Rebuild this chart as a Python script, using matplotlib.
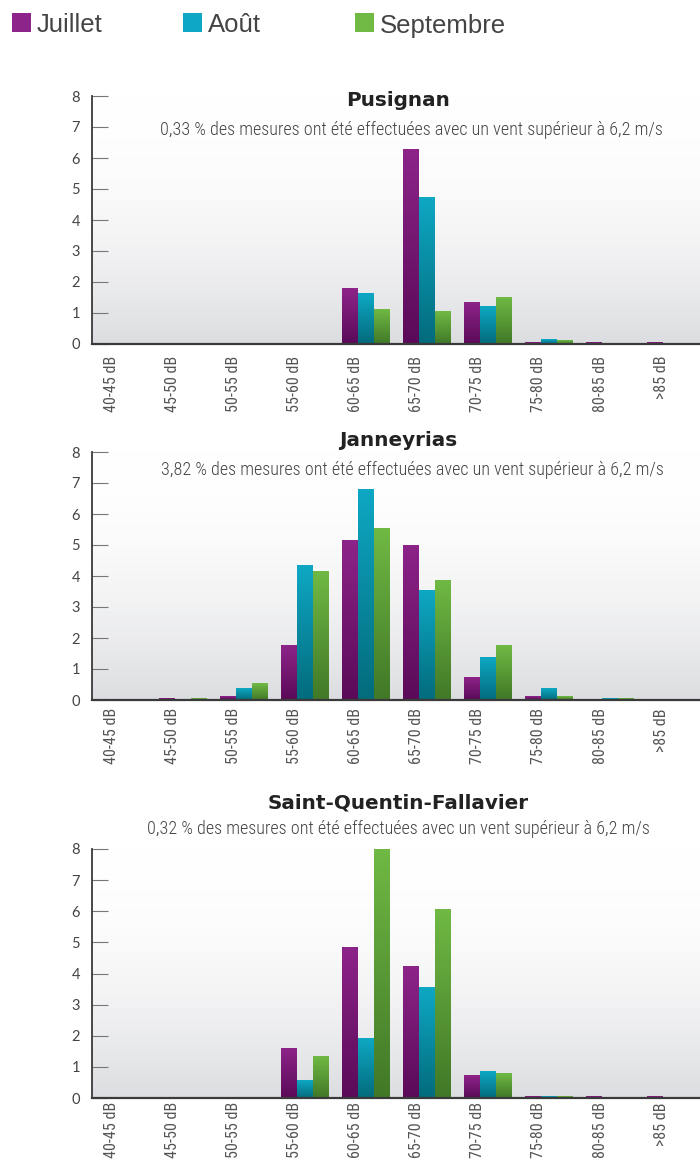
import os
import numpy as np
import matplotlib
matplotlib.use('Agg')
import matplotlib.pyplot as plt
from matplotlib import font_manager
from matplotlib.font_manager import FontProperties
from matplotlib.colors import LinearSegmentedColormap, to_rgb
from matplotlib.patches import Rectangle
from matplotlib.transforms import ScaledTranslation

categories = ['40-45 dB', '45-50 dB', '50-55 dB', '55-60 dB', '60-65 dB',
              '65-70 dB', '70-75 dB', '75-80 dB', '80-85 dB', '>85 dB']
months = ['Juillet', 'Août', 'Septembre']

stations = ['Pusignan', 'Janneyrias', 'Saint-Quentin-Fallavier']
wind_share = ['0,33', '3,82', '0,32']

pusignan_juillet = [0, 0, 0, 0, 1.78, 6.28, 1.33, 0.04, 0.04, 0.04]
pusignan_aout = [0, 0, 0, 0, 1.62, 4.71, 1.20, 0.14, 0, 0]
pusignan_sept = [0, 0, 0, 0, 1.10, 1.04, 1.49, 0.11, 0, 0]

janneyrias_juillet = [0, 0.04, 0.11, 1.75, 5.15, 4.99, 0.72, 0.11, 0, 0]
janneyrias_aout = [0, 0, 0.36, 4.35, 6.79, 3.54, 1.36, 0.36, 0.04, 0]
janneyrias_sept = [0, 0.04, 0.52, 4.15, 5.54, 3.87, 1.75, 0.11, 0.04, 0]

sqf_juillet = [0, 0, 0, 1.59, 4.83, 4.22, 0.73, 0.04, 0.04, 0.04]
sqf_aout = [0, 0, 0, 0.57, 1.91, 3.55, 0.86, 0.04, 0, 0]
sqf_sept = [0, 0, 0, 1.34, 8.0, 6.05, 0.79, 0.04, 0, 0]

# couleurs haut / bas du degrade de chaque barre
top_colors = ['#8d2489', '#0ea8c4', '#70b944']
bottom_colors = ['#5a0a58', '#036b7c', '#417827']

W, H = 700, 1165


def find_font(prefs):
    # cherche une police etroite installee, sinon DejaVu Sans
    files = {}
    for f in font_manager.fontManager.ttflist:
        base = os.path.splitext(os.path.basename(f.fname))[0].lower()
        files.setdefault(base, f.fname)
    for p in prefs:
        if p.lower() in files:
            return FontProperties(fname=files[p.lower()])
    for f in font_manager.fontManager.ttflist:
        if f.stretch in ('condensed', 'semi-condensed') and f.weight in (300, 400, 'normal', 'light'):
            return FontProperties(fname=f.fname)
    return FontProperties(family='DejaVu Sans')


narrow = find_font(['RobotoCondensed-Light', 'NotoSans-CondensedLight', 'LiberationSansNarrow-Regular',
                    'RobotoCondensed-Regular', 'NotoSans-Condensed', 'OpenSans-CondensedLight',
                    'DejaVuSansCondensed'])
narrow_tick = find_font(['NotoSans-ExtraCondensed', 'RobotoCondensed-Regular', 'NotoSans-Condensed',
                         'LiberationSansNarrow-Regular', 'RobotoCondensed-Light', 'DejaVuSansCondensed'])

fig = plt.figure(figsize=(W / 100, H / 100), dpi=100)
fig.patch.set_facecolor('white')


def px_axes(left, top, right, bottom):
    return fig.add_axes([left / W, 1 - bottom / H, (right - left) / W, (bottom - top) / H])


def background(ax):
    # fond blanc en haut, gris clair en bas
    t = np.linspace(0, 1, 256).reshape(-1, 1)
    v = (1 - t) ** 2
    white = np.array([1.0, 1.0, 1.0])
    gray = np.array(to_rgb('#dcdde0'))
    img = white[None, None, :] - v[:, :, None] * (white - gray)[None, None, :]
    ax.imshow(img, extent=[0, 1, 0, 1], transform=ax.transAxes, origin='lower',
              aspect='auto', zorder=0)


def gradient_bars(ax, bars, top, bottom):
    cmap = LinearSegmentedColormap.from_list('g', [bottom, top])
    grad = np.linspace(0, 1, 128).reshape(-1, 1)
    for b in bars:
        h = b.get_height()
        if h <= 0:
            continue
        x = b.get_x()
        w = b.get_width()
        b.set_facecolor('none')
        ax.imshow(grad, extent=[x, x + w, 0, h], origin='lower', cmap=cmap,
                  aspect='auto', zorder=2, interpolation='bilinear')


panels = [
    ([pusignan_juillet, pusignan_aout, pusignan_sept], (96, 344), 12, 101, 130, 411),
    ([janneyrias_juillet, janneyrias_aout, janneyrias_sept], (452, 700), 8, 440, 470, 412),
    ([sqf_juillet, sqf_aout, sqf_sept], (849, 1098), 4, 803, 829, 398),
]

x = np.arange(len(categories))
width = 0.255
step = 0.265

axes = []
subtitles = []
for i, (series, (top, bottom), lab_pad, title_y, sub_y, sub_x) in enumerate(panels):
    ax = px_axes(92, top, 700, bottom)
    axes.append(ax)
    background(ax)
    for k, vals in enumerate(series):
        bars = ax.bar(x + (k - 1) * step, vals, width, color=top_colors[k],
                      linewidth=0, zorder=2)
        gradient_bars(ax, bars, top_colors[k], bottom_colors[k])

    ax.set_xlim(-0.49, 9.475)
    ax.set_ylim(0, 8)
    ax.set_yticks(range(9))
    ax.set_yticklabels([str(v) for v in range(9)], family='Lato', fontsize=10.5, color='#444444')
    ax.tick_params(axis='y', direction='in', length=11.5, width=0.8, color='#777777', pad=8.5)
    ax.set_xticks(x)
    ax.set_xticklabels(categories, rotation=90, fontproperties=narrow_tick, fontsize=12, color='#555555')
    ax.tick_params(axis='x', length=0, pad=lab_pad * 0.72)
    offset = ScaledTranslation(-0.10, 0, fig.dpi_scale_trans)
    for lab in ax.get_xticklabels():
        lab.set_transform(lab.get_transform() + offset)

    for s in ['top', 'right']:
        ax.spines[s].set_visible(False)
    ax.spines['left'].set_color('#3a3a3a')
    ax.spines['left'].set_linewidth(1.3)
    ax.spines['bottom'].set_color('#3a3a3a')
    ax.spines['bottom'].set_linewidth(1.6)
    ax.spines['left'].set_zorder(5)
    ax.spines['bottom'].set_zorder(5)

    fig.text(398.5 / W, 1 - title_y / H, stations[i], ha='center', va='center',
             family='DejaVu Sans', fontweight='bold', fontsize=14.4, color='#222222')
    st = fig.text(sub_x / W, 1 - sub_y / H,
                  wind_share[i] + ' % des mesures ont été effectuées avec un vent supérieur à 6,2 m/s',
                  ha='center', va='center', fontproperties=narrow, fontsize=11.5, color='#444444')
    subtitles.append(st)

# legende en haut
legend_x = [12, 183, 355]
for k, name in enumerate(months):
    fig.patches.append(Rectangle((legend_x[k] / W, 1 - 31.5 / H), 18.5 / W, 19 / H,
                                 transform=fig.transFigure, facecolor=top_colors[k],
                                 edgecolor='none'))
    fig.text((legend_x[k] + 24.5) / W, 1 - 32.5 / H, name, ha='left', va='baseline',
             family='Liberation Sans', fontsize=18.5, color='#444444')

# ajuste la taille des textes etroits a la largeur mesuree sur l'original
for _ in range(2):
    fig.canvas.draw()
    renderer = fig.canvas.get_renderer()
    for st in subtitles:
        w = st.get_window_extent(renderer).width
        st.set_fontsize(st.get_fontsize() * 502.0 / w)
    for ax in axes:
        labs = ax.get_xticklabels()
        h = labs[0].get_window_extent(renderer).height
        fs = labs[0].get_fontsize() * 56.0 / h
        for lab in labs:
            lab.set_fontsize(fs)

fig.savefig('out.png', dpi=100)
